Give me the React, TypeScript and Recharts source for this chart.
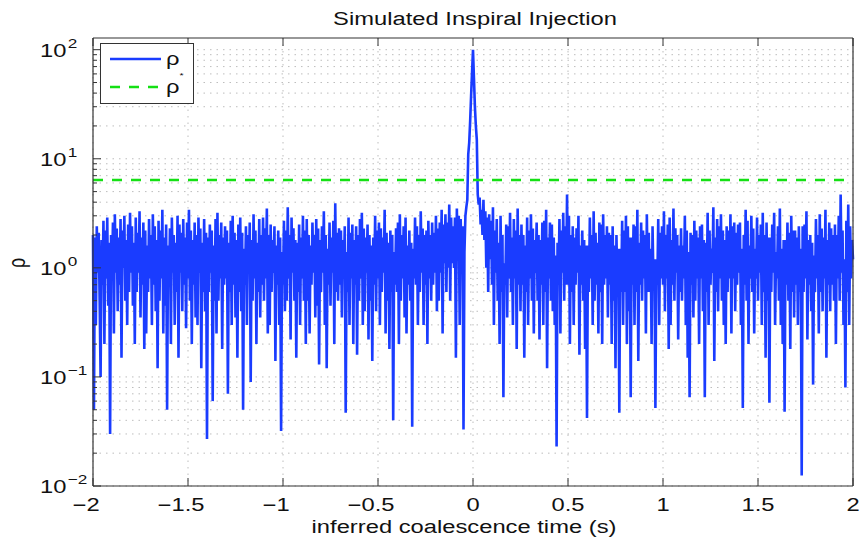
import { LineChart, Line, XAxis, YAxis, CartesianGrid, Legend, Label } from "recharts";

// matched-filter SNR time series, sampled every 5 ms from -2 s to +2 s
const T_START = -2;
const T_STEP = 0.005;
const rho = [
  2.0, 0.05, 1.9, 0.3, 2.4, 0.9, 2.1, 0.5, 0.1, 1.8, 0.7, 2.7, 0.2, 2.2, 0.8, 2.9, 0.45, 1.7, 0.03, 2.0,
  0.8, 2.6, 0.25, 3.1, 0.9, 2.3, 0.4, 1.9, 0.7, 2.8, 0.15, 2.2, 1.0, 3.0, 0.5, 1.8, 0.3, 2.5, 0.6, 3.2,
  0.9, 2.4, 0.45, 1.7, 0.2, 2.9, 0.6, 2.1, 0.9, 3.3, 0.35, 1.9, 0.7, 2.6, 0.18, 2.2, 0.25, 1.6, 0.6, 2.8,
  0.8, 2.0, 0.3, 3.1, 0.7, 2.4, 0.4, 1.8, 0.12, 2.7, 0.5, 2.2, 0.8, 3.4, 0.25, 1.9, 0.45, 2.5, 0.05, 1.6,
  0.7, 2.3, 0.2, 2.9, 0.9, 2.0, 0.3, 1.7, 0.6, 3.0, 0.15, 2.5, 0.9, 2.1, 0.4, 2.8, 0.7, 1.9, 0.28, 2.6,
  0.8, 3.4, 0.5, 2.2, 0.2, 1.8, 0.7, 2.6, 0.35, 2.0, 0.3, 2.9, 0.9, 2.3, 0.12, 1.7, 0.6, 2.8, 0.4, 2.1,
  0.027, 1.9, 0.6, 2.5, 0.9, 2.2, 0.06, 1.6, 0.5, 2.8, 0.25, 3.2, 0.5, 2.0, 0.8, 2.6, 0.18, 1.9, 0.7, 2.4,
  0.8, 2.2, 0.07, 1.7, 0.6, 2.7, 0.3, 3.0, 0.7, 2.1, 0.35, 1.8, 0.15, 2.5, 0.6, 2.9, 0.4, 2.1, 0.05, 1.5,
  0.7, 2.4, 0.3, 2.0, 0.9, 2.6, 0.09, 1.8, 0.5, 3.1, 0.8, 2.2, 0.2, 1.7, 0.6, 2.8, 0.35, 2.0, 0.7, 2.9,
  0.5, 2.3, 0.8, 3.5, 0.25, 2.0, 0.3, 2.5, 0.6, 1.8, 0.9, 2.4, 0.14, 1.6, 0.7, 2.2, 0.3, 1.9, 0.032, 1.4,
  0.7, 2.7, 0.4, 2.2, 0.5, 3.6, 0.8, 2.0, 0.22, 2.9, 0.9, 2.3, 0.5, 1.8, 0.15, 1.7, 0.6, 2.5, 0.3, 1.9,
  0.8, 3.0, 0.5, 2.2, 0.2, 2.8, 0.5, 2.0, 0.25, 1.6, 0.7, 2.6, 0.9, 2.0, 0.35, 2.8, 0.45, 2.3, 0.13, 1.8,
  0.6, 2.4, 0.9, 3.3, 0.3, 2.0, 0.12, 1.5, 0.7, 2.6, 0.45, 1.9, 0.9, 2.7, 0.2, 3.9, 0.6, 2.1, 0.5, 2.3,
  0.7, 2.2, 0.35, 1.8, 0.8, 2.4, 0.047, 1.4, 0.6, 2.9, 0.3, 2.1, 0.8, 2.5, 0.2, 1.8, 0.7, 2.4, 0.16, 2.0,
  0.5, 2.8, 0.8, 3.2, 0.3, 2.3, 0.4, 1.9, 0.9, 2.5, 0.22, 2.0, 0.5, 1.6, 0.14, 1.9, 0.7, 3.0, 0.4, 2.2,
  0.8, 2.6, 0.3, 2.3, 0.6, 1.9, 0.9, 3.4, 0.25, 2.1, 0.5, 1.7, 0.18, 2.2, 0.6, 2.0, 0.04, 1.4, 0.7, 2.3,
  0.6, 2.6, 0.2, 3.1, 0.5, 2.0, 0.8, 2.4, 0.35, 2.9, 0.25, 1.6, 0.7, 2.2, 0.5, 1.7, 0.035, 1.5, 0.8, 2.9,
  0.7, 2.4, 0.3, 2.0, 0.6, 3.3, 0.9, 2.3, 0.3, 2.0, 0.7, 2.2, 0.2, 2.7, 0.8, 2.0, 0.5, 2.6, 0.7, 2.1,
  0.9, 3.0, 0.4, 2.3, 0.5, 2.6, 0.9, 3.4, 0.25, 2.5, 1.1, 3.1, 0.6, 2.6, 1.0, 3.8, 0.5, 2.9, 1.1, 2.4,
  1.0, 2.9, 0.15, 3.5, 1.2, 3.0, 0.3, 2.8, 1.4, 2.4, 0.033, 1.4, 3.0, 3.6, 4.2, 11, 14, 22, 38, 62,
  100, 55, 30, 20, 15, 4.7, 3.8, 4.4, 2.5, 3.4, 2.0, 4.2, 1.8, 3.3, 1.0, 2.9, 0.6, 3.1, 1.2, 2.7,
  0.7, 3.6, 0.3, 2.2, 0.9, 2.8, 0.5, 1.7, 0.2, 3.0, 0.6, 2.0, 0.065, 1.1, 0.7, 2.5, 0.35, 2.4, 0.8, 3.2,
  0.6, 1.9, 0.3, 2.8, 0.8, 2.2, 0.18, 3.5, 0.7, 2.0, 0.4, 2.5, 0.7, 2.0, 0.15, 1.6, 0.6, 2.9, 0.3, 2.2,
  0.8, 3.1, 0.5, 2.3, 0.25, 1.8, 0.9, 2.6, 0.5, 2.0, 0.22, 1.8, 0.7, 2.6, 0.3, 2.7, 0.6, 3.4, 0.12, 1.9,
  0.8, 2.6, 0.5, 2.5, 0.4, 1.9, 0.3, 1.3, 0.023, 1.7, 0.7, 2.8, 0.25, 2.2, 0.9, 3.2, 0.5, 2.4, 0.7, 4.7,
  0.7, 3.0, 0.2, 2.0, 0.6, 2.4, 0.3, 1.9, 0.7, 2.3, 0.9, 3.0, 0.16, 1.6, 0.7, 2.2, 0.5, 1.8, 0.18, 1.6,
  0.042, 1.6, 0.6, 2.9, 0.8, 2.0, 0.3, 3.3, 0.5, 2.1, 0.7, 1.7, 0.25, 2.6, 0.6, 2.5, 0.2, 3.1, 0.7, 2.0,
  0.8, 2.4, 0.35, 2.1, 0.7, 2.0, 0.2, 2.4, 0.5, 1.6, 0.12, 2.0, 0.6, 1.5, 0.047, 1.5, 0.6, 2.7, 0.3, 2.2,
  0.6, 3.0, 0.2, 2.4, 0.4, 1.9, 0.065, 1.9, 0.7, 2.5, 0.3, 2.4, 0.6, 3.4, 0.14, 1.7, 0.7, 2.6, 0.5, 2.2,
  0.8, 2.0, 0.25, 3.1, 0.6, 2.1, 0.6, 1.5, 0.2, 2.4, 0.7, 1.2, 0.052, 1.2, 0.7, 2.8, 0.3, 2.1, 0.8, 2.4,
  0.7, 3.3, 0.4, 2.0, 0.8, 2.5, 0.18, 2.9, 0.3, 1.8, 0.7, 3.5, 0.5, 2.3, 0.9, 2.0, 0.22, 1.6, 0.6, 2.3,
  0.5, 1.6, 0.8, 3.0, 0.3, 2.2, 0.15, 1.4, 0.065, 2.1, 0.7, 2.0, 0.35, 2.7, 0.5, 2.2, 0.8, 1.9, 0.2, 2.4,
  0.8, 2.5, 0.4, 1.8, 0.065, 1.7, 0.6, 3.2, 0.3, 2.2, 0.7, 1.5, 0.9, 3.6, 0.14, 1.9, 0.6, 2.8, 0.4, 2.4,
  0.8, 3.1, 0.5, 2.2, 0.3, 1.8, 0.2, 2.4, 0.6, 2.2, 0.8, 3.1, 0.25, 2.4, 0.8, 2.6, 0.4, 2.1, 0.7, 2.5,
  0.9, 2.6, 0.3, 1.5, 0.052, 2.0, 0.7, 3.4, 0.5, 2.7, 0.2, 1.6, 0.8, 3.0, 0.6, 2.3, 0.25, 1.5, 0.8, 2.9,
  0.5, 2.0, 0.9, 2.5, 0.3, 3.2, 0.6, 2.0, 0.15, 2.6, 0.5, 1.9, 0.058, 1.9, 0.6, 2.5, 0.9, 3.2, 0.3, 1.4,
  0.8, 2.4, 0.5, 3.5, 0.3, 1.5, 0.2, 1.8, 0.048, 1.8, 0.7, 2.6, 0.5, 2.1, 0.18, 3.0, 0.6, 2.2, 0.35, 2.2,
  0.7, 1.9, 0.3, 2.4, 0.6, 1.5, 0.0125, 2.4, 0.6, 2.5, 0.8, 3.3, 0.22, 1.8, 0.7, 2.0, 0.4, 1.7, 0.085, 1.3,
  0.6, 2.8, 0.8, 2.0, 0.25, 3.1, 0.6, 2.3, 0.4, 1.9, 0.8, 3.4, 0.15, 1.8, 0.7, 2.6, 0.4, 2.3, 0.7, 2.0,
  0.5, 2.5, 0.2, 2.0, 0.8, 3.0, 0.5, 4.7, 0.9, 2.2, 0.3, 1.2, 0.08, 2.7, 0.6, 3.8, 0.3, 2.4, 0.8, 1.8,
  1.2,
];
// detection threshold
const rhoStar = 6.4;

const xTicks = [-2, -1.5, -1, -0.5, 0, 0.5, 1, 1.5, 2];
const yDecades = [0.01, 0.1, 1, 10, 100];
const yMinor = [2, 3, 4, 5, 6, 7, 8, 9];
const yMax = 128;

const yTicks = yDecades.flatMap((d, i) =>
  i < yDecades.length - 1 ? [d, ...yMinor.map((m) => +(d * m).toPrecision(3))] : [d]
);

const data = rho.map((v, i) => ({
  t: +(T_START + i * T_STEP).toFixed(3),
  rho: v,
  thr: rhoStar,
}));

const FONT = "'Liberation Sans', Arial, Helvetica, sans-serif";
const SX = 1.32; // the fonts are drawn a bit wide
const BLUE = "#1a3cff";
const GREEN = "#14e014";
const AXIS = "#333";
const MINUS = "\u2212";

const isDecade = (v: number) => Math.abs(Math.log10(v) - Math.round(Math.log10(v))) < 1e-6;

const charW = (s: string) =>
  s.split("").reduce((w, c) => w + (c === "." ? 0.278 : 0.556), 0);

function LeftTick({ x, y, payload }: any) {
  const v = payload.value;
  const major = isDecade(v);
  const exp = Math.round(Math.log10(v));
  return (
    <g>
      <line x1={x} x2={x + (major ? 8 : 4)} y1={y} y2={y} stroke={AXIS} />
      {major && (
        <text
          transform={`translate(${x - 53},${y + 7}) scale(${SX},1)`}
          fontSize={18}
          fontFamily={FONT}
          fill="#111"
        >
          10
          <tspan dy={-9} dx={1} fontSize={13}>
            {exp < 0 ? MINUS + Math.abs(exp) : exp}
          </tspan>
        </text>
      )}
    </g>
  );
}

function RightTick({ x, y, payload }: any) {
  const major = isDecade(payload.value);
  return <line x1={x} x2={x - (major ? 8 : 4)} y1={y} y2={y} stroke={AXIS} />;
}

function BottomTick({ x, y, payload }: any) {
  const v = payload.value;
  const digits = String(Math.abs(v));
  const half = (charW(digits) * 18 * SX) / 2;
  return (
    <g>
      <line x1={x} x2={x} y1={y} y2={y - 8} stroke={AXIS} />
      <text
        transform={`translate(${x},${y + 25}) scale(${SX},1)`}
        textAnchor="middle"
        fontSize={18}
        fontFamily={FONT}
        fill="#111"
      >
        {digits}
      </text>
      {v < 0 && (
        <text
          transform={`translate(${x - half},${y + 25}) scale(${SX},1)`}
          textAnchor="end"
          fontSize={18}
          fontFamily={FONT}
          fill="#111"
        >
          {MINUS}
        </text>
      )}
    </g>
  );
}

function TopTick({ x, y }: any) {
  return <line x1={x} x2={x} y1={y} y2={y + 8} stroke={AXIS} />;
}

function LegendBox() {
  return (
    <svg width={95} height={62} style={{ display: "block" }}>
      <rect x={0.5} y={0.5} width={93} height={60} fill="#fff" stroke={AXIS} />
      <line x1={10} x2={61} y1={16} y2={16} stroke={BLUE} strokeWidth={2.5} />
      <text transform={`translate(66,22) scale(${SX},1)`} fontSize={18} fontFamily={FONT} fill="#111">
        ρ
        <tspan dy={13} fontSize={8}>
          *
        </tspan>
      </text>
      <line x1={10} x2={61} y1={44} y2={44} stroke={GREEN} strokeWidth={2.5} strokeDasharray="10 9" />
      <text transform={`translate(66,50) scale(${SX},1)`} fontSize={18} fontFamily={FONT} fill="#111">
        ρ
      </text>
    </svg>
  );
}

export default function App() {
  return (
    <div style={{ position: "absolute", left: 0, top: 0, background: "#fff" }}>
      <LineChart
        width={865}
        height={537}
        data={data}
        margin={{ top: 37, right: 11, bottom: 50, left: 92 }}
      >
        <CartesianGrid
          stroke="#bdbdbd"
          strokeDasharray="1.5 5"
          horizontalValues={yTicks}
          verticalValues={xTicks}
        />
        <XAxis
          dataKey="t"
          type="number"
          domain={[-2, 2]}
          ticks={xTicks}
          interval={0}
          height={1}
          tickSize={0}
          tickMargin={0}
          tick={<BottomTick />}
          axisLine={{ stroke: AXIS, strokeWidth: 1.2 }}
        >
          <Label
            content={({ viewBox }: any) => (
              <text
                transform={`translate(${viewBox.x + viewBox.width / 2 - 9},533) scale(${SX},1)`}
                textAnchor="middle"
                fontSize={18}
                fontFamily={FONT}
                fill="#111"
              >
                inferred coalescence time (s)
              </text>
            )}
          />
        </XAxis>
        <XAxis
          xAxisId="top"
          orientation="top"
          dataKey="t"
          type="number"
          domain={[-2, 2]}
          ticks={xTicks}
          interval={0}
          height={1}
          tickSize={0}
          tickMargin={0}
          tick={<TopTick />}
          axisLine={{ stroke: AXIS, strokeWidth: 1.2 }}
        >
          <Label
            content={({ viewBox }: any) => (
              <text
                transform={`translate(${viewBox.x + viewBox.width / 2 + 2},25) scale(${SX},1)`}
                textAnchor="middle"
                fontSize={18}
                fontFamily={FONT}
                fill="#111"
              >
                Simulated Inspiral Injection
              </text>
            )}
          />
        </XAxis>
        <YAxis
          scale="log"
          type="number"
          domain={[0.01, yMax]}
          ticks={yTicks}
          interval={0}
          width={1}
          tickSize={0}
          tickMargin={0}
          tick={<LeftTick />}
          axisLine={{ stroke: AXIS, strokeWidth: 1.2 }}
        >
          <Label
            content={({ viewBox }: any) => (
              <text
                transform={`translate(25,${viewBox.y + viewBox.height / 2 + 1}) scale(${SX},1) rotate(-90)`}
                textAnchor="middle"
                fontSize={18}
                fontFamily={FONT}
                fill="#111"
              >
                ρ
              </text>
            )}
          />
        </YAxis>
        <YAxis
          yAxisId="right"
          orientation="right"
          scale="log"
          type="number"
          domain={[0.01, yMax]}
          ticks={yTicks}
          interval={0}
          width={1}
          tickSize={0}
          tickMargin={0}
          tick={<RightTick />}
          axisLine={{ stroke: AXIS, strokeWidth: 1.2 }}
        />
        <Legend
          layout="horizontal"
          verticalAlign="middle"
          align="center"
          content={<LegendBox />}
          wrapperStyle={{ left: 100, top: 43, width: 95, height: 62 }}
        />
        <Line
          dataKey="rho"
          name="ρ"
          stroke={BLUE}
          strokeWidth={2.6}
          dot={false}
          isAnimationActive={false}
        />
        <Line
          dataKey="thr"
          name="ρ*"
          stroke={GREEN}
          strokeWidth={2.5}
          strokeDasharray="10 9"
          dot={false}
          isAnimationActive={false}
        />
      </LineChart>
    </div>
  );
}
